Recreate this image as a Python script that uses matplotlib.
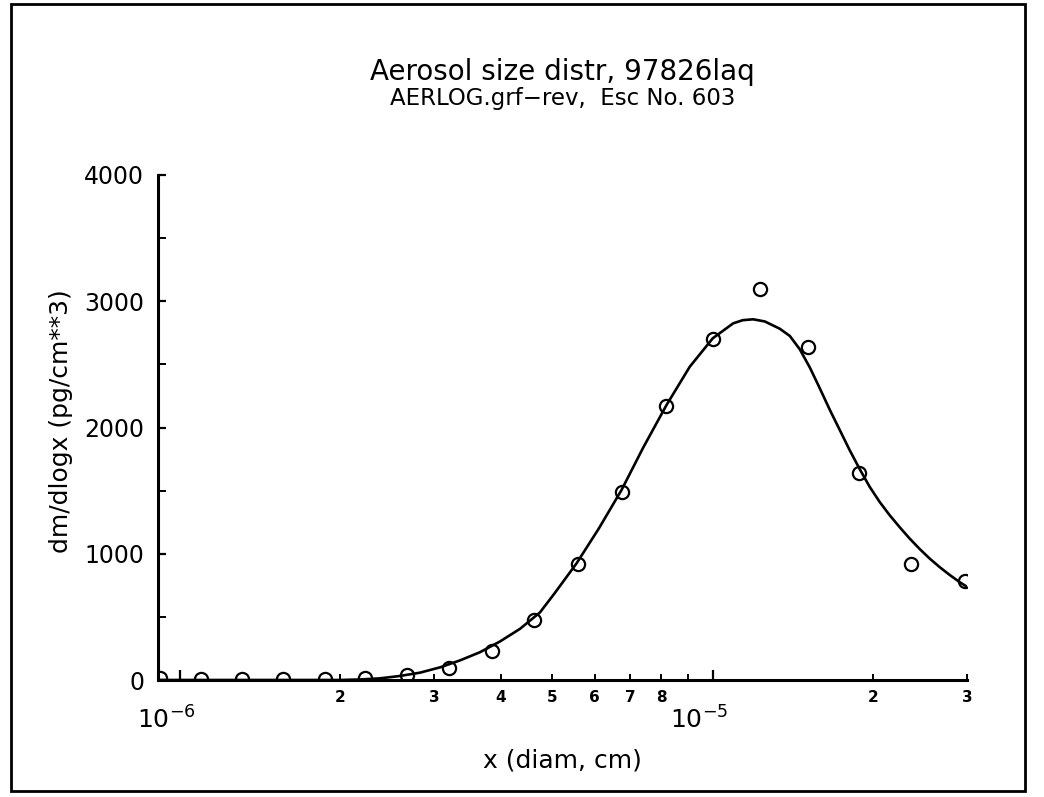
import matplotlib
matplotlib.use('Agg')
import matplotlib.pyplot as plt
import matplotlib.transforms as mtransforms
from matplotlib.patches import Rectangle
from matplotlib.ticker import FixedLocator, FixedFormatter, NullFormatter

# measured points (open circles)
diam = [9.17e-7, 1.095e-6, 1.307e-6, 1.560e-6, 1.871e-6, 2.224e-6, 2.666e-6,
        3.197e-6, 3.849e-6, 4.615e-6, 5.580e-6, 6.750e-6, 8.161e-6, 1.0e-5,
        1.225e-5, 1.507e-5, 1.878e-5, 2.351e-5, 2.970e-5]
dm_dlogx = [18, 10, 6, 6, 6, 14, 40, 97, 230, 475, 916, 1491, 2170, 2700,
            3097, 2640, 1637, 919, 787]

# fitted curve
fit_x = [9.09e-7, 1.5e-6, 1.997e-6, 2.176e-6, 2.372e-6, 2.587e-6, 2.820e-6,
         3.075e-6, 3.352e-6, 3.655e-6, 3.985e-6, 4.345e-6, 4.737e-6, 5.053e-6,
         5.549e-6, 6.11e-6, 6.74e-6, 7.40e-6, 8.186e-6, 9.054e-6, 1.0e-5,
         1.092e-5, 1.138e-5, 1.190e-5, 1.252e-5, 1.336e-5, 1.395e-5, 1.456e-5,
         1.521e-5, 1.588e-5, 1.658e-5, 1.731e-5, 1.807e-5, 1.887e-5, 1.970e-5,
         2.057e-5, 2.148e-5, 2.243e-5, 2.342e-5, 2.446e-5, 2.553e-5, 2.666e-5,
         2.784e-5, 2.907e-5, 3.0e-5]
fit_y = [0, 0, 0, 4, 13, 32, 58, 100, 155, 220, 305, 405, 535, 690,
         924, 1200, 1505, 1840, 2178, 2482, 2707,
         2825, 2850, 2857, 2840, 2782, 2725, 2620,
         2475, 2310, 2140, 1980, 1820, 1670, 1530,
         1410, 1305, 1210, 1120, 1037, 962, 894,
         832, 775, 738]

major_x = [1e-6, 1e-5]
major_labels = ['$10^{-6}$', '$10^{-5}$']
minor_x = [2e-6, 3e-6, 4e-6, 5e-6, 6e-6, 7e-6, 8e-6, 9e-6, 2e-5, 3e-5]
minor_labels = ['2', '3', '4', '5', '6', '7', '8', '', '2', '3']

plt.rcParams['font.family'] = 'DejaVu Sans'
plt.rcParams['mathtext.default'] = 'regular'

fig = plt.figure(figsize=(10.44, 7.97), dpi=100)
W, H = 1044, 797

# outer frame
fig.patches.append(Rectangle((11 / W, 1 - 791 / H), (1025 - 11) / W, (791 - 4) / H,
                             transform=fig.transFigure, fill=False,
                             edgecolor='black', linewidth=2))

ax = fig.add_axes([158 / W, 1 - 680 / H, (967 - 158) / W, (680 - 175) / H])

ax.plot(fit_x, fit_y, color='black', linewidth=1.9)
ax.plot(diam, dm_dlogx, linestyle='none', marker='o', markersize=9.5,
        markerfacecolor='none', markeredgecolor='black', markeredgewidth=1.6)

ax.set_xscale('log')
ax.set_xlim(9.09e-7, 3e-5)
ax.set_ylim(0, 4000)

for side in ['top', 'right']:
    ax.spines[side].set_visible(False)
for side in ['left', 'bottom']:
    ax.spines[side].set_linewidth(2.2)

ax.xaxis.set_major_locator(FixedLocator(major_x))
ax.xaxis.set_major_formatter(FixedFormatter(major_labels))
ax.xaxis.set_minor_locator(FixedLocator(minor_x))
ax.xaxis.set_minor_formatter(FixedFormatter(minor_labels))
ax.tick_params(axis='x', which='major', direction='in', length=7, width=1.6,
               labelsize=18, pad=19)
ax.tick_params(axis='x', which='minor', direction='in', length=4, width=1.4,
               labelsize=11, pad=7)
for lab in ax.xaxis.get_minorticklabels():
    lab.set_fontweight('bold')
# decade labels sit a little left of their ticks
shift = mtransforms.ScaledTranslation(-14 / 100, 0, fig.dpi_scale_trans)
for lab in ax.xaxis.get_majorticklabels():
    lab.set_transform(lab.get_transform() + shift)

ax.set_yticks([0, 1000, 2000, 3000, 4000])
ax.set_yticks([500, 1500, 2500, 3500], minor=True)
ax.yaxis.set_minor_formatter(NullFormatter())
ax.tick_params(axis='y', which='major', direction='in', length=6, width=1.6,
               labelsize=17, pad=10)
ax.tick_params(axis='y', which='minor', direction='in', length=6, width=1.4)

ax.set_xlabel('x (diam, cm)', fontsize=18, labelpad=11)
ax.set_ylabel('dm/dlogx (pg/cm**3)', fontsize=18)
ax.yaxis.set_label_coords(-0.105, 0.513)

fig.text((158 + 967) / 2 / W, 1 - 72 / H, 'Aerosol size distr, 97826laq',
         ha='center', va='center', fontsize=20)
fig.text((158 + 967) / 2 / W, 1 - 98 / H, 'AERLOG.grf\u2212rev,  Esc No. 603',
         ha='center', va='center', fontsize=16.5)

fig.savefig('out.png', dpi=100)
